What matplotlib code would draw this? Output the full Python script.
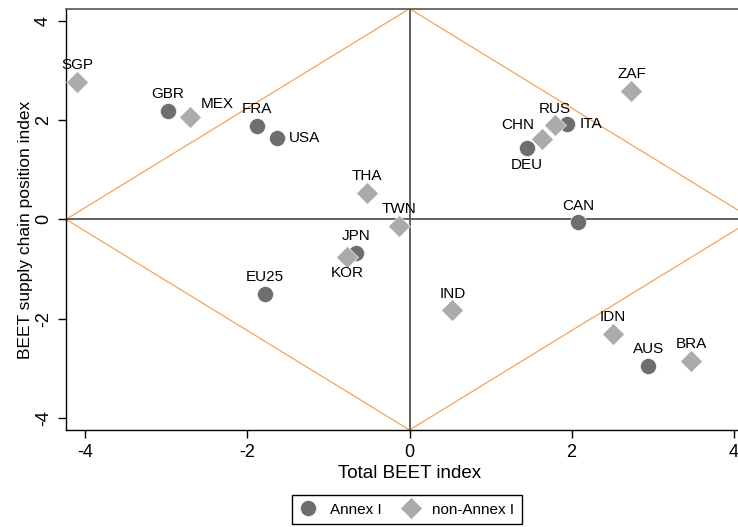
import matplotlib.pyplot as plt
import numpy as np

# Annex I countries (circles)
annex_names = ["GBR", "FRA", "USA", "JPN", "EU25", "CAN", "DEU", "ITA", "AUS"]
annex_x = [-2.98, -1.88, -1.64, -0.66, -1.78, 2.08, 1.45, 1.95, 2.95]
annex_y = [2.18, 1.88, 1.63, -0.68, -1.50, -0.06, 1.44, 1.92, -2.95]

# non-Annex I countries (diamonds)
non_names = ["SGP", "MEX", "THA", "TWN", "KOR", "IND", "IDN", "BRA", "CHN", "RUS", "ZAF"]
non_x = [-4.10, -2.71, -0.52, -0.13, -0.77, 0.53, 2.51, 3.48, 1.63, 1.79, 2.74]
non_y = [2.77, 2.06, 0.53, -0.13, -0.75, -1.83, -2.31, -2.85, 1.62, 1.89, 2.58]

lim = 4.24  # axis range, also the corners of the diamond guide

# label placement (offset in points, alignment)
above = ((0, 7), "center", "bottom")
below = ((0, -7), "center", "top")
right = ((9, 0), "left", "center")
label_pos = {
    "GBR": above, "FRA": above, "USA": right, "JPN": above, "EU25": above,
    "CAN": above, "DEU": below, "ITA": right, "AUS": above,
    "SGP": above, "MEX": ((8, 4), "left", "bottom"), "THA": above, "TWN": above,
    "KOR": below, "IND": above, "IDN": above, "BRA": above,
    "CHN": ((-5, 5), "right", "bottom"), "RUS": above, "ZAF": above,
}

plt.rcParams["font.family"] = ["Liberation Sans", "DejaVu Sans"]
plt.rcParams["axes.unicode_minus"] = False

fig = plt.figure(figsize=(7.38, 5.27), dpi=100)
ax = fig.add_axes([66 / 738, 1 - 430 / 527, (753 - 66) / 738, (430 - 8.7) / 527])

# diamond guide lines
ax.plot([-lim, 0, lim, 0, -lim], [0, lim, 0, -lim, 0], color="#f5a356", lw=0.9, zorder=1)
ax.axhline(0, color="#555555", lw=1.3, zorder=1)
ax.axvline(0, color="#555555", lw=1.3, zorder=1)

ax.plot(annex_x, annex_y, "o", ms=11.5, color="#6e6e6e", mec="white", mew=0.4,
        ls="none", label="Annex I", zorder=3)
ax.plot(non_x, non_y, "D", ms=11, color="#ababab", mec="white", mew=0.4,
        ls="none", label="non-Annex I", zorder=4)

for names, xs, ys in [(annex_names, annex_x, annex_y), (non_names, non_x, non_y)]:
    for n, x, y in zip(names, xs, ys):
        off, ha, va = label_pos[n]
        ax.annotate(n, (x, y), xytext=off, textcoords="offset points",
                    ha=ha, va=va, fontsize=11, zorder=5)

ax.set_xlim(-lim, lim)
ax.set_ylim(-lim, lim)
ax.set_xticks([-4, -2, 0, 2, 4])
ax.set_yticks([-4, -2, 0, 2, 4])
ax.tick_params(direction="out", length=6, width=1, labelsize=13, pad=4)
for lbl in ax.get_yticklabels():
    lbl.set_rotation(90)
    lbl.set_va("center")

for side in ["left", "bottom"]:
    ax.spines[side].set_color("black")
    ax.spines[side].set_linewidth(1)
ax.spines["top"].set_color("#555555")
ax.spines["top"].set_linewidth(1.2)

ax.set_xlabel("Total BEET index", fontsize=13.5, labelpad=3)
ax.set_ylabel("BEET supply chain position index", fontsize=12.5)
ax.yaxis.set_label_coords(-0.048, 0.475)

fig.legend(loc="center", bbox_to_anchor=(0.551, 0.033), ncol=2, fontsize=11,
           frameon=True, fancybox=False, edgecolor="black", framealpha=1,
           handlelength=1.2, handletextpad=0.8, columnspacing=1.3, borderpad=0.5)

fig.savefig("out.png", dpi=100)
